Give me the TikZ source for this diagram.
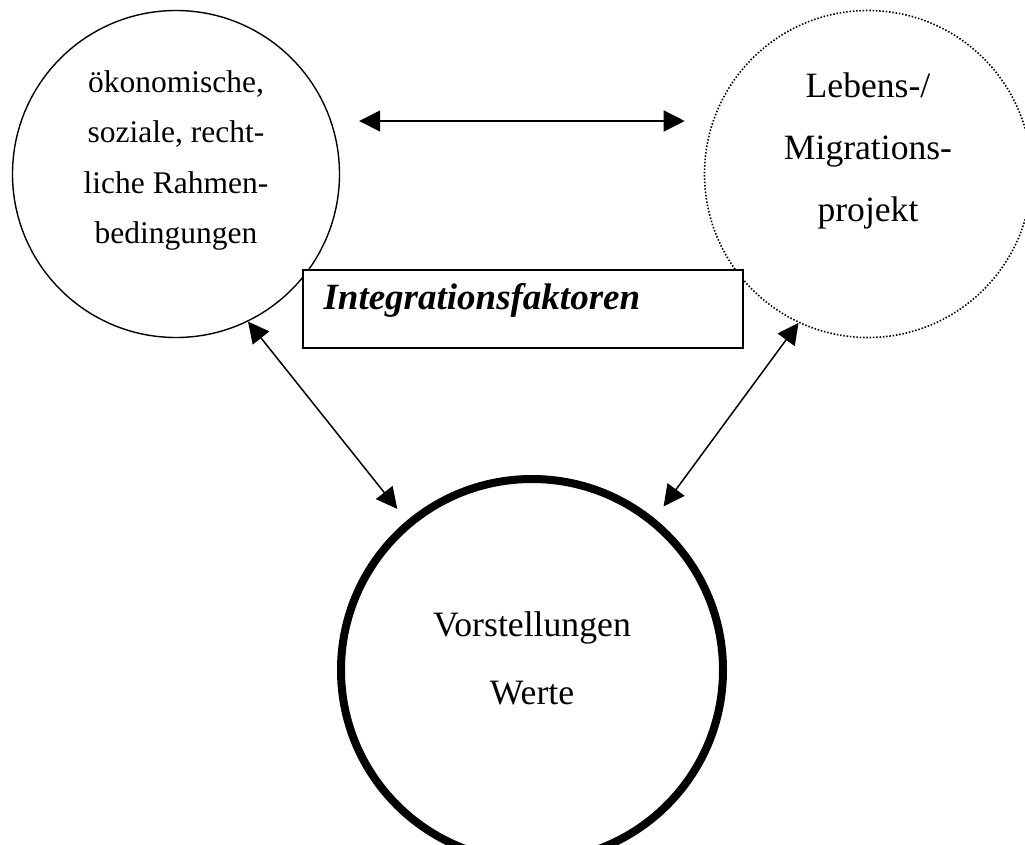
\documentclass[tikz,border=0pt]{standalone}
\usepackage{fontspec}
\setmainfont{Liberation Serif}
\usetikzlibrary{arrows.meta,calc}
\newcommand{\tip}{Triangle[length=21pt,width=21pt]}
\tikzset{
  ring/.style={circle,draw=black,fill=white,inner sep=0pt},
  link/.style={{\tip}-{\tip},line width=1.5pt},
}

\begin{document}
\begin{tikzpicture}[x=1pt,y=-1pt]
\useasboundingbox (0,0) rectangle (1025,844);
\node[ring,line width=1.4pt,minimum size=327pt] (rahmen) at (176,174) {};
\node[ring,line width=1.6pt,dash pattern=on 1.5pt off 1.8pt,minimum size=327pt] (projekt) at (868,174) {};
\node[ring,line width=8pt,minimum size=382pt] (werte) at (532,670) {};
\node[align=center,font=\fontsize{31.5}{50.5}\selectfont] (rahmentext) at ([yshift=13.5pt]rahmen.center) {ökonomische,\\soziale, recht-\\liche Rahmen-\\bedingungen};
\node[align=center,font=\fontsize{35.6}{62}\selectfont] (projekttext) at ([yshift=23pt]projekt.center) {Lebens-/\\Migrations-\\projekt};
\node[align=center,font=\fontsize{35.7}{68}\selectfont] (wertetext) at ([yshift=11.5pt]werte.center) {Vorstellungen\\Werte};
\draw[link,shorten <=19pt,shorten >=19pt] ([yshift=53pt]rahmen.east) -- ([yshift=53pt]projekt.west);
\draw[link,shorten >=15pt] (rahmen.-64) -- (werte.130);
\draw[link,shorten >=15pt] (projekt.-115) -- (werte.51);
\node[draw,line width=1.5pt,fill=white,minimum width=440pt,minimum height=78pt,anchor=north west] (faktoren) at (302,269) {};
\node[anchor=base west,font=\fontsize{37}{44}\selectfont\bfseries\itshape] (faktortext) at ($(faktoren.north west)+(18,40)$) {Integrationsfaktoren};
\end{tikzpicture}
\end{document}
